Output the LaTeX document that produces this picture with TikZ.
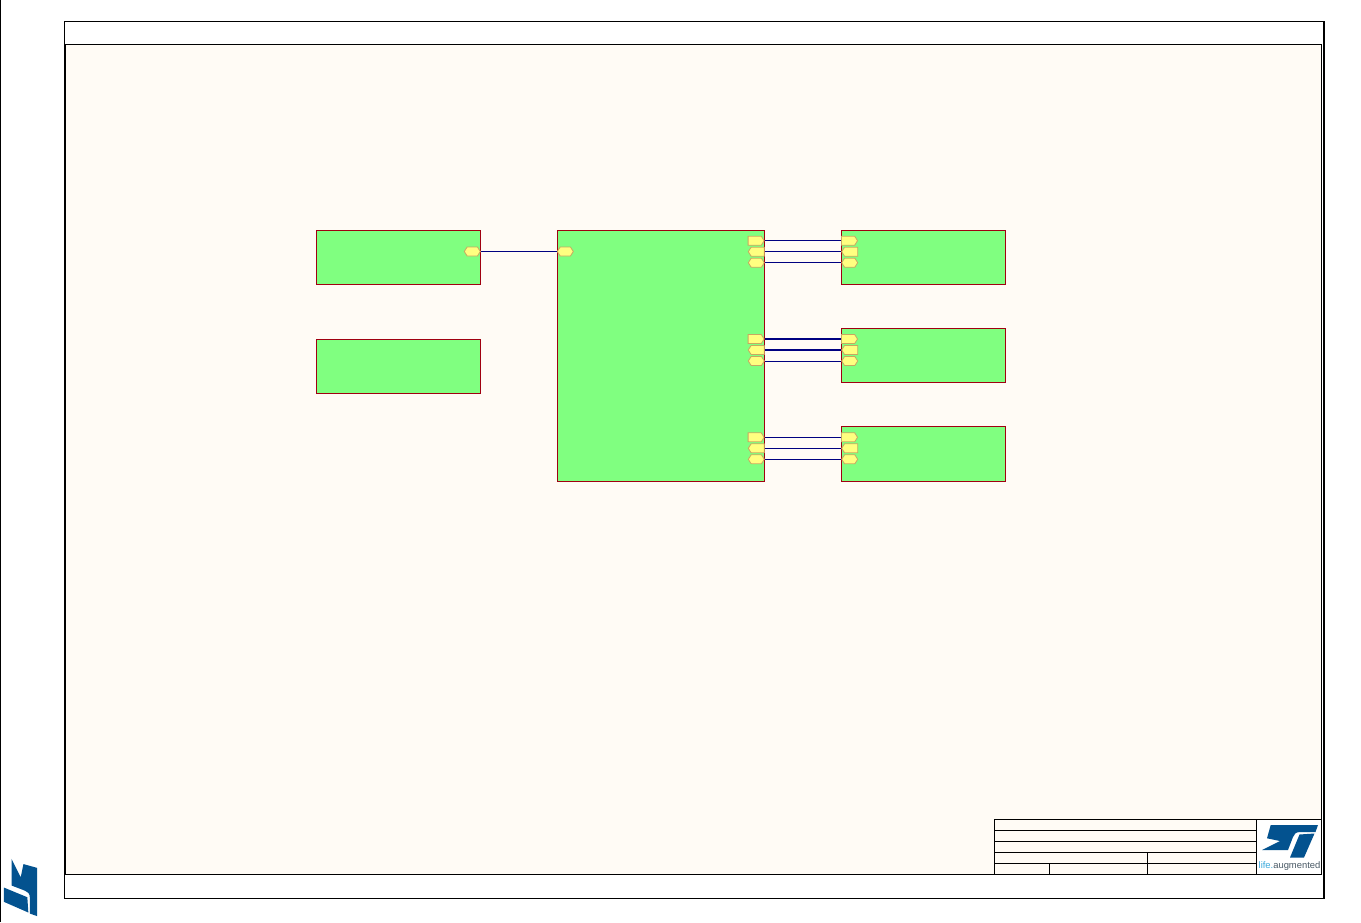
\documentclass[tikz,border=0pt]{standalone}
\usepackage{fontspec}
\setmainfont{Liberation Sans}
\usetikzlibrary{shapes.symbols}
\definecolor{sheetcream}{HTML}{FFFBF5}
\definecolor{blockgreen}{HTML}{80FF80}
\definecolor{blockred}{HTML}{A00010}
\definecolor{portyellow}{HTML}{FFFF80}
\definecolor{portedge}{HTML}{C8A860}
\definecolor{wireblue}{HTML}{000080}
\definecolor{logoblue}{HTML}{03528F}
\definecolor{logolight}{HTML}{39A9DC}
\definecolor{logogray}{HTML}{4A5A66}
\tikzset{
    block/.style={draw=blockred, fill=blockgreen, line width=1.2pt, anchor=north west, inner sep=0pt},
    portbase/.style={shape=signal, draw=portedge, fill=portyellow, line width=0.8pt, inner sep=0pt,
        minimum width=16pt, minimum height=9pt, signal pointer angle=115},
    portout/.style={portbase, signal to=east, signal from=nowhere, xshift=-1.6pt},
    portin/.style={portbase, signal to=west, signal from=nowhere, xshift=1.4pt},
    portio/.style={portbase, signal to=east and west},
    wire/.style={draw=wireblue, line width=1pt},
    buswire/.style={draw=wireblue, line width=1.9pt},
    stlogo/.pic={
        \fill[logoblue] (7.7,-1) -- (55,-1) -- (52.5,6) -- (37,6) .. controls (33,6) and (31,8) .. (30,11)
            -- (25,24) -- (-1,24) -- (17,15) -- (4,12.3) -- cycle;
        \fill[logoblue] (36.5,8.5) -- (51.5,7.5) -- (41,31.5) -- (27,31.5) -- cycle;
    }
}
\begin{document}
\begin{tikzpicture}[x=1pt, y=-1pt]
    \useasboundingbox (0,0) rectangle (1361,922);
    \fill[white] (0,0) rectangle (1361,922);
    \draw[line width=1.4pt] (0.8,0) -- (0.8,922);

    %sheet frame
    \fill[sheetcream] (65.5,44.5) rectangle (1322,874.5);
    \draw[line width=1.3pt] (64.8,21.8) rectangle (1324,898.2);
    \draw[line width=1.3pt] (65.8,44.3) rectangle (1321.8,874.3);

    %title block
    \fill[white] (1256.5,819.5) rectangle (1321.5,874);
    \draw[line width=1pt] (994.5,819.4) rectangle (1321.8,874.3);
    \draw[line width=1pt] (994.5,830.4) -- (1256.5,830.4);
    \draw[line width=1pt] (994.5,841.4) -- (1256.5,841.4);
    \draw[line width=1pt] (994.5,852.4) -- (1256.5,852.4);
    \draw[line width=1pt] (994.5,863.4) -- (1256.5,863.4);
    \draw[line width=1pt] (1256.5,819.4) -- (1256.5,874.3);
    \draw[line width=1pt] (1147.5,852.4) -- (1147.5,874.3);
    \draw[line width=1pt] (1049.5,863.4) -- (1049.5,874.3);

    %logos
    \pic at (1263,826) {stlogo};
    \node[inner sep=0pt] (tagline) at (1289.5,866.5) {\fontsize{9.4pt}{10pt}\selectfont\textcolor{logolight}{life.}\textcolor{logogray}{augmented}};
    \pic[rotate=-90, scale=1.02] at (36,860) {stlogo};

    %blocks
    \node[block, minimum width=164pt, minimum height=54.5pt] (power) at (315.7,229.7) {};
    \node[block, minimum width=164pt, minimum height=54pt] (reset) at (315.7,338.8) {};
    \node[block, minimum width=207.5pt, minimum height=251.5pt] (mcu) at (556.5,229.7) {};
    \node[block, minimum width=164pt, minimum height=54.5pt] (ledA) at (840.7,229.7) {};
    \node[block, minimum width=164pt, minimum height=54.5pt] (ledB) at (840.7,327.7) {};
    \node[block, minimum width=164pt, minimum height=55.5pt] (ledC) at (840.7,425.7) {};

    %ports
    \node[portio] (powerIO) at (472.3,251.5) {};
    \node[portio] (mcuIO) at (565.3,251.5) {};

    \node[portout] (mcuA1) at (756.3,240.7) {};
    \node[portin] (mcuA2) at (756.3,251.7) {};
    \node[portio] (mcuA3) at (756.3,262.7) {};
    \node[portout] (mcuB1) at (756.3,339) {};
    \node[portin] (mcuB2) at (756.3,350) {};
    \node[portio] (mcuB3) at (756.3,361) {};
    \node[portout] (mcuC1) at (756.3,437.3) {};
    \node[portin] (mcuC2) at (756.3,448.3) {};
    \node[portio] (mcuC3) at (756.3,459.3) {};

    \node[portout] (ledA1) at (849.7,240.7) {};
    \node[portin] (ledA2) at (849.7,251.7) {};
    \node[portio] (ledA3) at (849.7,262.7) {};
    \node[portout] (ledB1) at (849.7,339) {};
    \node[portin] (ledB2) at (849.7,350) {};
    \node[portio] (ledB3) at (849.7,361) {};
    \node[portout] (ledC1) at (849.7,437.3) {};
    \node[portin] (ledC2) at (849.7,448.3) {};
    \node[portio] (ledC3) at (849.7,459.3) {};

    %wires
    \draw[wire] (powerIO.east) -- (mcuIO.west);
    \draw[wire] (mcuA1.east) -- (ledA1.west);
    \draw[wire] (mcuA2.east) -- (ledA2.west);
    \draw[wire] (mcuA3.east) -- (ledA3.west);
    \draw[buswire] (mcuB1.east) -- (ledB1.west);
    \draw[buswire] (mcuB2.east) -- (ledB2.west);
    \draw[wire] (mcuB3.east) -- (ledB3.west);
    \draw[wire] (mcuC1.east) -- (ledC1.west);
    \draw[wire] (mcuC2.east) -- (ledC2.west);
    \draw[wire] (mcuC3.east) -- (ledC3.west);
\end{tikzpicture}
\end{document}
